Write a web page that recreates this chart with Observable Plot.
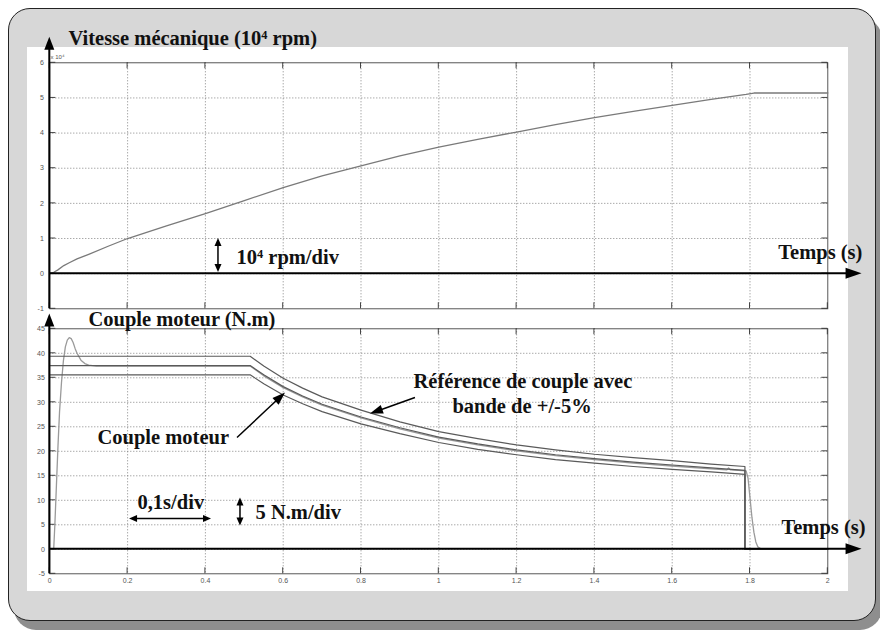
<!DOCTYPE html>
<html><head><meta charset="utf-8">
<script src="https://cdn.jsdelivr.net/npm/d3@7"></script>
<script src="https://cdn.jsdelivr.net/npm/@observablehq/plot@0.6"></script>
<style>
html,body{margin:0;padding:0;background:#fff;}
#wrap{position:relative;width:880px;height:635px;overflow:hidden;}
#panel{position:absolute;left:8px;top:8px;width:866px;height:611px;border:1.5px solid #222;border-radius:22px;background:#d7d7d7;box-shadow:6px 9px 0 #8e8e8e;}
#paper{position:absolute;left:27px;top:47px;width:821px;height:544px;background:#fff;}
#wrap svg{position:absolute;left:0;top:0;}
</style></head><body><div id="wrap"><div id="panel"></div><div id="paper"></div></div>
<script>
// ---- tick values ----
const timeTicks = [0, 0.2, 0.4, 0.6, 0.8, 1, 1.2, 1.4, 1.6, 1.8, 2];
const speedTicks = [-1, 0, 1, 2, 3, 4, 5, 6];
const torqueTicks = [-5, 0, 5, 10, 15, 20, 25, 30, 35, 40, 45];

// ---- speed (x10^4 rpm) ----
const speedTime = [0, 0.01, 0.02, 0.036, 0.05, 0.07, 0.1, 0.15, 0.2, 0.3, 0.4, 0.5, 0.6, 0.7, 0.8, 0.9, 1.0, 1.1, 1.2, 1.3, 1.4, 1.5, 1.6, 1.7, 1.79, 1.81, 2.0];
const speed = [0, 0.04, 0.1, 0.23, 0.31, 0.42, 0.55, 0.78, 1.0, 1.36, 1.71, 2.08, 2.45, 2.78, 3.07, 3.35, 3.6, 3.82, 4.03, 4.24, 4.44, 4.62, 4.79, 4.96, 5.1, 5.14, 5.14];

// ---- torque reference and +/-5% band (N.m) ----
const refTime = [0, 0.515, 0.55, 0.6, 0.65, 0.7, 0.8, 0.9, 1.0, 1.1, 1.2, 1.3, 1.4, 1.5, 1.6, 1.7, 1.787, 1.787, 2.0];
const torqueRef = [37.5, 37.5, 35.6, 33.2, 31.3, 29.6, 27.0, 24.8, 22.9, 21.5, 20.3, 19.3, 18.5, 17.8, 17.2, 16.6, 16.1, 0, 0];
const torqueUpper = [39.4, 39.4, 37.4, 34.9, 32.9, 31.1, 28.4, 26.0, 24.0, 22.6, 21.3, 20.3, 19.4, 18.7, 18.1, 17.4, 16.9, 0, 0];
const torqueLower = [35.6, 35.6, 33.8, 31.5, 29.7, 28.1, 25.6, 23.6, 21.8, 20.4, 19.3, 18.3, 17.6, 16.9, 16.3, 15.8, 15.3, 0, 0];

// ---- motor torque (N.m) ----
const motorTime = [0, 0.01, 0.013, 0.017, 0.021, 0.025, 0.03, 0.035, 0.04, 0.045, 0.05, 0.055, 0.06, 0.065, 0.07, 0.08, 0.09, 0.1, 0.12, 0.515, 0.55, 0.6, 0.65, 0.7, 0.8, 0.9, 1.0, 1.1, 1.2, 1.3, 1.4, 1.5, 1.6, 1.7, 1.74, 1.745, 1.75, 1.79, 1.795, 1.8, 1.805, 1.81, 1.815, 1.82, 1.83, 1.85];
const torqueMotor = [0, 0, 5, 13, 21, 28, 34, 38.5, 41.3, 42.7, 43.2, 43.0, 42.2, 41.0, 40.0, 38.6, 37.9, 37.6, 37.4, 37.4, 35.4, 33.0, 31.1, 29.4, 26.8, 24.6, 22.7, 21.3, 20.1, 19.1, 18.3, 17.6, 17.0, 16.4, 16.2, 16.6, 16.2, 16.0, 14.5, 10.5, 6.5, 3.5, 1.5, 0.5, 0, 0];

// ---- annotations (data coordinates) ----
const topLabels = [
  {text: "Vitesse mécanique (10⁴ rpm)", x: 0.048, y: 6.494},
  {text: "10⁴ rpm/div", x: 0.48, y: 0.28}
];
const topLabelsEnd = [{text: "Temps (s)", x: 2.089, y: 0.424}];
const topArrows = [
  {x1: 0, y1: -1, x2: 0, y2: 6.73, len: 13, wid: 10, w: 2},
  {x1: 0, y1: 0, x2: 2.088, y2: 0, len: 16, wid: 11, w: 2},
  {x1: 0.4336, y1: 0.034, x2: 0.4336, y2: 1.0, len: 8, wid: 7, w: 1.5, both: true}
];
const bottomLabels = [
  {text: "Couple moteur (N.m)", x: 0.0995, y: 45.57},
  {text: "Couple moteur", x: 0.1226, y: 21.49},
  {text: "Référence de couple avec", x: 0.935, y: 32.92},
  {text: "bande de +/-5%", x: 1.035, y: 27.82},
  {text: "0,1s/div", x: 0.2254, y: 8.22},
  {text: "5 N.m/div", x: 0.5288, y: 6.12}
];
const bottomLabelsEnd = [{text: "Temps (s)", x: 2.097, y: 3.12}];
const bottomArrows = [
  {x1: 0, y1: -5, x2: 0, y2: 48.02, len: 13, wid: 10, w: 2},
  {x1: 0, y1: 0, x2: 2.088, y2: 0, len: 16, wid: 11, w: 2},
  {x1: 0.4825, y1: 22.71, x2: 0.606, y2: 31.9, len: 13, wid: 9, w: 1.5},
  {x1: 0.94, y1: 30.88, x2: 0.8244, y2: 27.6, len: 13, wid: 9, w: 1.5},
  {x1: 0.205, y1: 6.18, x2: 0.4157, y2: 6.18, len: 8, wid: 7, w: 1.5, both: true},
  {x1: 0.4902, y1: 4.76, x2: 0.4902, y2: 10.47, len: 8, wid: 7, w: 1.5, both: true}
];

// ---- helpers ----
function arrowsMark(list) {
  return (index, scales) => {
    const x = scales.x, y = scales.y;
    const g = d3.create("svg:g");
    for (const a of list) {
      let x1 = x(a.x1), y1 = y(a.y1), x2 = x(a.x2), y2 = y(a.y2);
      const ang = Math.atan2(y2 - y1, x2 - x1);
      const c = Math.cos(ang), s = Math.sin(ang);
      const sx2 = x2 - c * a.len * 0.6, sy2 = y2 - s * a.len * 0.6;
      const sx1 = a.both ? x1 + c * a.len * 0.6 : x1, sy1 = a.both ? y1 + s * a.len * 0.6 : y1;
      g.append("line").attr("x1", sx1).attr("y1", sy1).attr("x2", sx2).attr("y2", sy2)
        .attr("stroke", "#000").attr("stroke-width", a.w);
      const head = (qx, qy, cc, ss) => {
        const bx = qx - a.len * cc, by = qy - a.len * ss, W = a.wid / 2;
        const pts = [[qx, qy], [bx + W * ss, by - W * cc], [bx - W * ss, by + W * cc]];
        g.append("polygon").attr("points", pts.map(p => p.join(",")).join(" ")).attr("fill", "#000");
      };
      head(x2, y2, c, s);
      if (a.both) head(x1, y1, -c, -s);
    }
    return g.node();
  };
}
function inwardTicks(xt, yt, len) {
  return (index, scales, values, dim) => {
    const x = scales.x, y = scales.y;
    const L = dim.marginLeft, R = dim.width - dim.marginRight, T = dim.marginTop, B = dim.height - dim.marginBottom;
    const g = d3.create("svg:g").attr("stroke", "#333").attr("stroke-width", 0.9);
    for (const t of xt) {
      const px = x(t);
      g.append("line").attr("x1", px).attr("x2", px).attr("y1", T).attr("y2", T + len);
      g.append("line").attr("x1", px).attr("x2", px).attr("y1", B).attr("y2", B - len);
    }
    for (const v of yt) {
      const py = y(v);
      g.append("line").attr("y1", py).attr("y2", py).attr("x1", L).attr("x2", L + len);
      g.append("line").attr("y1", py).attr("y2", py).attr("x1", R).attr("x2", R - len);
    }
    return g.node();
  };
}
const serif = {fontFamily: "Liberation Serif", fontSize: 20.5, fontWeight: "bold", fill: "#111", lineAnchor: "bottom"};
const gridStyle = {stroke: "#777", strokeWidth: 0.9, strokeDasharray: "1,2"};
const svgStyle = {background: "transparent", overflow: "visible", fontFamily: "Liberation Sans", fontSize: "7px", color: "#555"};
const fmt = d => String(d);

const speedData = speedTime.map((t, i) => ({t, v: speed[i]}));
const bandData = [];
refTime.forEach((t, i) => {
  bandData.push({t, v: torqueUpper[i], s: "upper"});
  bandData.push({t, v: torqueRef[i], s: "ref"});
  bandData.push({t, v: torqueLower[i], s: "lower"});
});
const motorData = motorTime.map((t, i) => ({t, v: torqueMotor[i]}));

const topPlot = Plot.plot({
  width: 880, height: 635,
  marginLeft: 49.3, marginRight: 52.7, marginTop: 62.3, marginBottom: 326.7,
  style: svgStyle,
  x: {domain: [0, 2], axis: null},
  y: {domain: [-1, 6], ticks: speedTicks, tickSize: 0, tickPadding: 6, label: null, tickFormat: fmt},
  marks: [
    Plot.ruleX(timeTicks.slice(1, -1), gridStyle),
    Plot.ruleY(speedTicks.slice(1, -1), gridStyle),
    Plot.frame({stroke: "#444", strokeWidth: 0.9}),
    inwardTicks(timeTicks, speedTicks, 6),
    Plot.line(speedData, {x: "t", y: "v", stroke: "#7a7a7a", strokeWidth: 1.3}),
    arrowsMark(topArrows),
    Plot.text(topLabels, {x: "x", y: "y", text: "text", textAnchor: "start", ...serif}),
    Plot.text(topLabelsEnd, {x: "x", y: "y", text: "text", textAnchor: "end", ...serif}),
    Plot.text(["x 10⁴"], {x: [0.002], y: [6.12], text: d => d, textAnchor: "start", lineAnchor: "bottom", fontSize: 6, fill: "#555", fontFamily: "Liberation Sans"})
  ]
});

const bottomPlot = Plot.plot({
  width: 880, height: 635,
  marginLeft: 49.3, marginRight: 52.7, marginTop: 328.3, marginBottom: 61.7,
  style: svgStyle,
  x: {domain: [0, 2], ticks: timeTicks, tickSize: 0, tickPadding: 4, label: null, tickFormat: fmt},
  y: {domain: [-5, 45], ticks: torqueTicks, tickSize: 0, tickPadding: 5, label: null, tickFormat: fmt},
  marks: [
    Plot.ruleX(timeTicks.slice(1, -1), gridStyle),
    Plot.ruleY(torqueTicks.slice(1, -1), gridStyle),
    Plot.frame({stroke: "#444", strokeWidth: 0.9}),
    inwardTicks(timeTicks, torqueTicks, 6),
    Plot.line(motorData, {x: "t", y: "v", stroke: "#9a9a9a", strokeWidth: 1.3}),
    Plot.line(bandData, {x: "t", y: "v", z: "s", stroke: "#5a5a5a", strokeWidth: 1.2}),
    arrowsMark(bottomArrows),
    Plot.text(bottomLabels, {x: "x", y: "y", text: "text", textAnchor: "start", ...serif}),
    Plot.text(bottomLabelsEnd, {x: "x", y: "y", text: "text", textAnchor: "end", ...serif})
  ]
});

const wrap = document.getElementById("wrap");
wrap.appendChild(topPlot);
wrap.appendChild(bottomPlot);
</script>
</body></html>
